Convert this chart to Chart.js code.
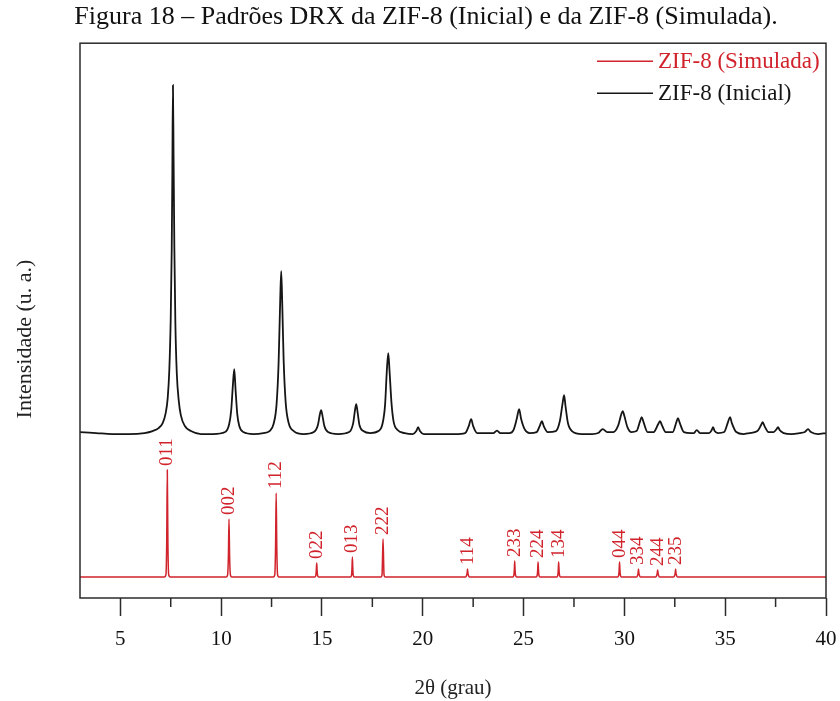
<!DOCTYPE html>
<html>
<head>
<meta charset="utf-8">
<script src="https://cdn.jsdelivr.net/npm/chart.js@4.4.1/dist/chart.umd.min.js"></script>
<style>
  html, body { margin: 0; padding: 0; background: #fff; }
  #wrap { width: 840px; height: 701px; }
</style>
</head>
<body>
<div id="wrap"><canvas id="chart-canvas"></canvas></div>
<script>
// ZIF-8 (Inicial) - measured pattern, [2theta, intensity (u. a.)]
const inicialData = [
    [3.0, 166], [3.8, 165], [4.6, 164], [5.4, 164], [6.2, 165], [6.6, 167], [6.9, 170],
    [7.1, 175], [7.25, 185], [7.35, 200], [7.43, 228], [7.5, 280], [7.55, 350], [7.58, 425],
    [7.61, 513], [7.64, 445], [7.68, 350], [7.73, 275], [7.8, 225], [7.9, 197], [8.0, 183],
    [8.2, 172], [8.5, 167], [9.0, 164], [9.6, 164], [10.2, 166], [10.4, 174], [10.5, 188],
    [10.58, 212], [10.65, 229], [10.72, 207], [10.8, 184], [10.9, 172], [11.1, 166],
    [11.6, 164], [12.1, 165], [12.4, 167], [12.6, 174], [12.75, 194], [12.85, 235],
    [12.93, 298], [12.98, 327], [13.03, 295], [13.1, 238], [13.2, 196], [13.35, 175],
    [13.6, 167], [14.1, 164], [14.6, 166], [14.8, 173], [14.9, 184], [14.96, 188],
    [15.02, 183], [15.12, 172], [15.3, 166], [15.8, 164], [16.35, 166], [16.55, 175],
    [16.64, 188], [16.7, 194], [16.76, 187], [16.86, 173], [17.05, 167], [17.4, 165],
    [17.8, 167], [18.0, 174], [18.13, 193], [18.22, 228], [18.29, 245], [18.35, 228],
    [18.45, 195], [18.55, 177], [18.75, 168], [19.1, 165], [19.5, 164], [19.68, 167],
    [19.77, 171], [19.86, 167], [20.05, 164], [20.8, 164], [21.6, 164], [22.1, 165],
    [22.28, 172], [22.4, 179], [22.5, 172], [22.7, 165], [23.2, 165], [23.5, 165],
    [23.68, 167.5], [23.85, 165], [24.3, 165], [24.5, 168], [24.66, 179], [24.78, 189],
    [24.88, 179], [25.05, 169], [25.3, 165], [25.65, 166], [25.82, 173], [25.91, 177],
    [26.0, 172], [26.2, 166], [26.6, 167], [26.8, 177], [26.93, 194], [27.01, 203],
    [27.08, 192], [27.2, 175], [27.4, 167], [27.9, 164], [28.4, 164], [28.7, 165],
    [28.93, 169], [29.15, 166], [29.45, 166], [29.7, 173], [29.85, 184], [29.92, 187],
    [30.0, 182], [30.15, 171], [30.35, 166], [30.6, 167], [30.78, 177], [30.86, 181],
    [30.95, 176], [31.15, 166], [31.45, 166], [31.68, 174], [31.77, 177], [31.86, 173],
    [32.05, 166], [32.4, 166], [32.58, 176], [32.66, 180], [32.75, 175], [32.95, 166],
    [33.3, 165], [33.45, 165], [33.59, 168], [33.75, 165], [34.2, 165], [34.33, 168],
    [34.4, 171], [34.48, 167], [34.65, 165], [34.95, 166], [35.14, 176], [35.24, 181],
    [35.33, 175], [35.55, 166], [35.9, 164], [36.2, 165], [36.6, 167], [36.78, 173],
    [36.86, 176], [36.95, 172], [37.15, 166], [37.4, 166], [37.55, 169], [37.62, 171],
    [37.7, 168], [37.9, 165], [38.3, 164], [38.7, 165], [38.95, 166], [39.11, 169],
    [39.25, 166], [39.6, 164], [40.0, 165]
];

// ZIF-8 (Simulada) - calculated pattern, [2theta, intensity (u. a.)]
const simuladaData = [
    [3.0, 21], [7.18, 21], [7.26, 23], [7.3, 55], [7.33, 128], [7.36, 55], [7.4, 23], [7.48, 21],
    [10.25, 21], [10.32, 23], [10.36, 42], [10.39, 79], [10.42, 42], [10.46, 23], [10.53, 21],
    [12.59, 21], [12.66, 23], [12.7, 52], [12.73, 105], [12.76, 52], [12.8, 23], [12.87, 21],
    [14.64, 21], [14.7, 23], [14.72, 28], [14.74, 35], [14.76, 28], [14.78, 23], [14.84, 21],
    [16.41, 21], [16.47, 23], [16.49, 30], [16.51, 41], [16.53, 30], [16.55, 23], [16.61, 21],
    [17.92, 21], [17.98, 23], [18.0, 36], [18.03, 59], [18.06, 36], [18.08, 23], [18.14, 21],
    [22.12, 21], [22.18, 23], [22.2, 25], [22.22, 29], [22.24, 25], [22.26, 23], [22.32, 21],
    [24.46, 21], [24.52, 23], [24.54, 28], [24.56, 37], [24.58, 28], [24.6, 23], [24.66, 21],
    [25.62, 21], [25.68, 23], [25.7, 28], [25.72, 36], [25.74, 28], [25.76, 23], [25.82, 21],
    [26.64, 21], [26.7, 23], [26.72, 28], [26.74, 36], [26.76, 28], [26.78, 23], [26.84, 21],
    [29.66, 21], [29.72, 23], [29.74, 28], [29.76, 36], [29.78, 28], [29.8, 23], [29.86, 21],
    [30.6, 21], [30.66, 23], [30.68, 25], [30.7, 29], [30.72, 25], [30.74, 23], [30.8, 21],
    [31.55, 21], [31.61, 23], [31.63, 25], [31.65, 28], [31.67, 25], [31.69, 23], [31.75, 21],
    [32.44, 21], [32.5, 23], [32.52, 25], [32.54, 29], [32.56, 25], [32.58, 23], [32.64, 21],
    [40.0, 21]
];

// reflections of the simulated pattern
const hklLabels = ['011', '002', '112', '022', '013', '222', '114', '233', '224', '134', '044', '334', '244', '235'];
const hklPos = [7.33, 10.39, 12.73, 14.74, 16.51, 18.03, 22.22, 24.56, 25.72, 26.74, 29.76, 30.7, 31.65, 32.54];
const hklHeight = [128, 79, 105, 35, 41, 59, 29, 37, 36, 36, 36, 29, 28, 29];

const xTicks = [5, 10, 15, 20, 25, 30, 35, 40];
const xMinorTicks = [7.5, 12.5, 17.5, 22.5, 27.5, 32.5, 37.5];

const serif = "'Liberation Serif', 'Times New Roman', serif";
const RED = '#d1232b';
const BLACK = '#151515';
const FRAME = '#2b2b2b';

const toXY = arr => arr.map(p => ({ x: p[0], y: p[1] }));

const extras = {
    id: 'extras',
    afterDatasetsDraw(chart) {
        const { ctx, chartArea: a, scales: { x, y } } = chart;
        ctx.save();

        // frame
        ctx.strokeStyle = FRAME;
        ctx.lineWidth = 1.5;
        ctx.strokeRect(a.left, a.top, a.right - a.left, a.bottom - a.top);

        // minor ticks
        xMinorTicks.forEach(v => {
            const px = x.getPixelForValue(v);
            ctx.beginPath();
            ctx.moveTo(px, a.bottom);
            ctx.lineTo(px, a.bottom + 9);
            ctx.stroke();
        });

        // hkl labels
        ctx.fillStyle = RED;
        ctx.font = '19px ' + serif;
        ctx.textAlign = 'left';
        ctx.textBaseline = 'middle';
        hklLabels.forEach((lab, i) => {
            const px = x.getPixelForValue(hklPos[i]);
            const py = y.getPixelForValue(hklHeight[i]);
            ctx.save();
            ctx.translate(px, py - 4);
            ctx.rotate(-Math.PI / 2);
            ctx.fillText(lab, 0, 0);
            ctx.restore();
        });

        // legend (Simulada first)
        const order = [1, 0];
        ctx.font = '23px ' + serif;
        ctx.textBaseline = 'middle';
        order.forEach((di, row) => {
            const ds = chart.data.datasets[di];
            const ly = a.top + 18 + row * 32;
            ctx.strokeStyle = ds.borderColor;
            ctx.lineWidth = 1.6;
            ctx.beginPath();
            ctx.moveTo(a.right - 229, ly);
            ctx.lineTo(a.right - 173, ly);
            ctx.stroke();
            ctx.fillStyle = ds.borderColor;
            ctx.fillText(ds.label, a.right - 168, ly + 1);
        });

        // y axis title
        ctx.fillStyle = '#222';
        ctx.font = '22px ' + serif;
        ctx.textAlign = 'center';
        ctx.translate(25, 339);
        ctx.rotate(-Math.PI / 2);
        ctx.fillText('Intensidade (u. a.)', 0, 0);
        ctx.restore();
    }
};

const ctx = document.getElementById('chart-canvas').getContext('2d');
new Chart(ctx, {
    type: 'line',
    data: {
        datasets: [{
            label: 'ZIF-8 (Inicial)',
            data: toXY(inicialData),
            borderColor: BLACK,
            borderWidth: 1.8,
            pointRadius: 0,
            cubicInterpolationMode: 'monotone',
            fill: false
        }, {
            label: 'ZIF-8 (Simulada)',
            data: toXY(simuladaData),
            borderColor: RED,
            borderWidth: 1.5,
            pointRadius: 0,
            cubicInterpolationMode: 'monotone',
            fill: false
        }]
    },
    options: {
        responsive: true,
        maintainAspectRatio: false,
        animation: false,
        layout: { padding: { left: 26, right: 14, top: 0, bottom: 0 } },
        plugins: {
            legend: { display: false },
            tooltip: { enabled: false },
            title: {
                display: true,
                text: 'Figura 18 – Padrões DRX da ZIF-8 (Inicial) e da ZIF-8 (Simulada).',
                color: '#111',
                font: { family: serif, size: 26, weight: 'normal' },
                padding: { top: 2, bottom: 10 }
            }
        },
        scales: {
            x: {
                type: 'linear',
                min: 3,
                max: 40,
                afterBuildTicks: scale => { scale.ticks = xTicks.map(v => ({ value: v })); },
                afterFit: scale => {
                    scale.height = 103;
                    scale.paddingLeft = 0;
                    scale.paddingRight = 0;
                },
                border: { display: false },
                grid: {
                    drawOnChartArea: false,
                    tickLength: 18,
                    tickColor: FRAME,
                    tickWidth: 1.5
                },
                ticks: {
                    color: '#111',
                    padding: 11,
                    maxRotation: 0,
                    font: { family: serif, size: 21 }
                },
                title: {
                    display: true,
                    text: '2θ (grau)',
                    color: '#222',
                    padding: { top: 0, bottom: 0 },
                    font: { family: serif, size: 21 }
                }
            },
            y: {
                min: 0,
                max: 555,
                afterFit: scale => { scale.width = 54; },
                border: { display: false },
                grid: { display: false },
                ticks: { display: false }
            }
        }
    },
    plugins: [extras]
});
</script>
</body>
</html>
